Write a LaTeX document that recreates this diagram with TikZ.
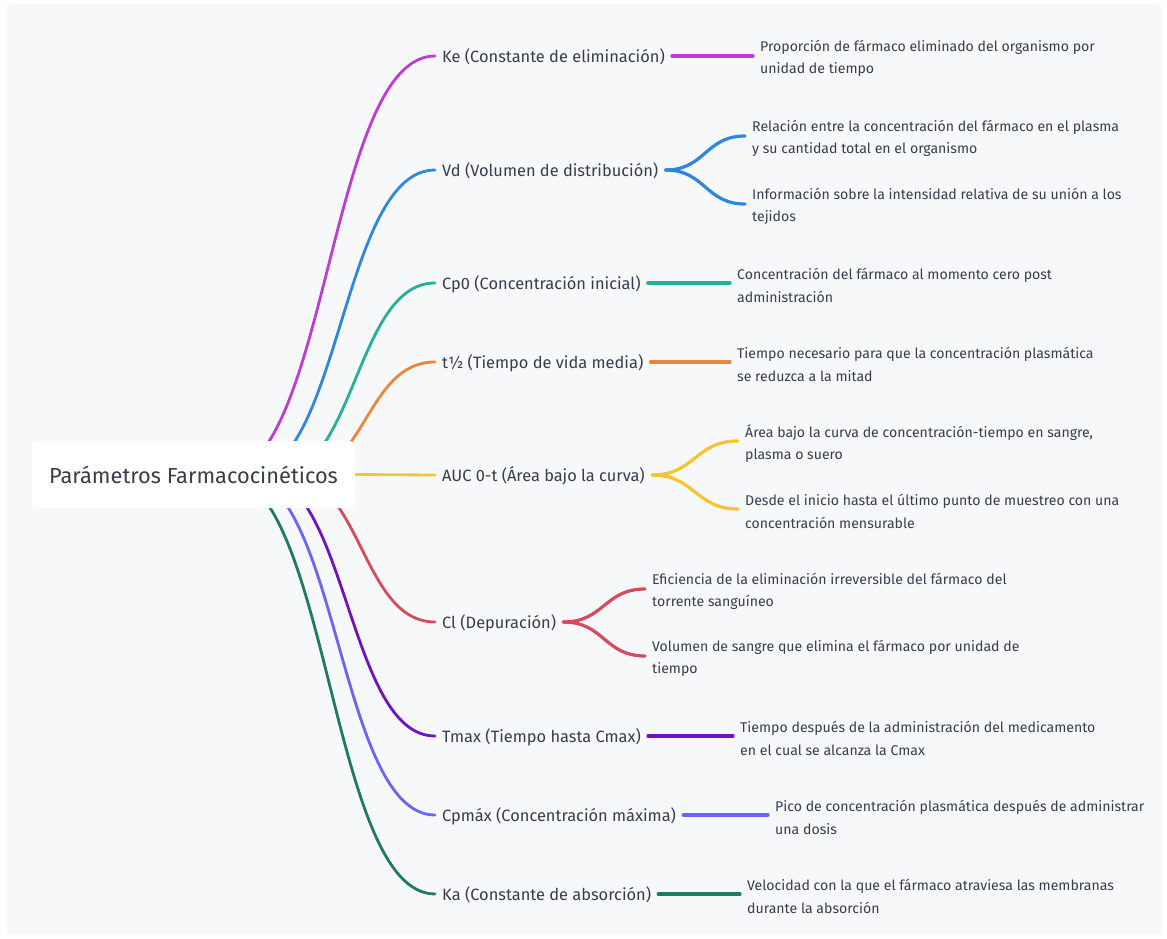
\documentclass[tikz,border=0pt]{standalone}
\usepackage{fontspec}
\setmainfont{Fira Sans}
\usetikzlibrary{calc, backgrounds}
\definecolor{cink}{HTML}{373E4A}
\definecolor{cbg}{HTML}{F7F8FA}
\definecolor{cmag}{HTML}{BE3CD2}
\definecolor{cblue}{HTML}{2E86DE}
\definecolor{cteal}{HTML}{26B09A}
\definecolor{corange}{HTML}{EC873A}
\definecolor{cyellow}{HTML}{F7C331}
\definecolor{cred}{HTML}{D54A5D}
\definecolor{cpurple}{HTML}{6F12C2}
\definecolor{cviolet}{HTML}{6C63F7}
\definecolor{cgreen}{HTML}{1F7A64}
\tikzset{
  every picture/.style={x=1pt, y=-1pt},
  root/.style={fill=white, rounded corners=5pt, minimum width=323pt, minimum height=67pt, text=cink, font=\fontsize{21.8}{26}\selectfont},
  branch/.style={anchor=west, inner xsep=7pt, inner ysep=2pt, text=cink, font=\fontsize{16.4}{19}\selectfont,
    text height=16pt, text depth=3.3pt},
  leaf/.style={anchor=west, align=left, inner xsep=7pt, inner ysep=0pt, yshift=-2.5pt, text=cink,
    font=\fontsize{14.1}{22.5}\selectfont},
  link/.style={draw=#1, line width=3.2pt, line cap=round,
    to path={let \p1=(\tikztostart), \p2=(\tikztotarget) in
      .. controls ({(\x1+\x2)/2},\y1) and ({(\x1+\x2)/2},\y2) .. (\tikztotarget)}},
}
\begin{document}
\begin{tikzpicture}
  \useasboundingbox (0,0) rectangle (1167,939);
  \node[root] (root) at (193.5,474.5) {Parámetros Farmacocinéticos};
  % main branches
  \node[branch] (ke) at (435,56) {Ke (Constante de eliminación)};
  \node[branch] (vd) at (435,170) {Vd (Volumen de distribución)};
  \node[branch] (cp) at (435,283) {Cp0 (Concentración inicial)};
  \node[branch] (th) at (435,362) {t½ (Tiempo de vida media)};
  \node[branch] (auc) at (435,475) {AUC 0-t (Área bajo la curva)};
  \node[branch] (cl) at (435,622) {Cl (Depuración)};
  \node[branch] (tmax) at (435,736) {Tmax (Tiempo hasta Cmax)};
  \node[branch] (cpmax) at (435,815) {Cpmáx (Concentración máxima)};
  \node[branch] (ka) at (435,894) {Ka (Constante de absorción)};
  % leaves
  \node[leaf] (ke1) at (753,56) {Proporción de fármaco eliminado del organismo por\\unidad de tiempo};
  \node[leaf] (vd1) at (745,136) {Relación entre la concentración del fármaco en el plasma\\y su cantidad total en el organismo};
  \node[leaf] (vd2) at (745,204) {Información sobre la intensidad relativa de su unión a los\\tejidos};
  \node[leaf] (cp1) at (730,283) {Concentración del fármaco al momento cero post\\administración};
  \node[leaf] (th1) at (730,362) {Tiempo necesario para que la concentración plasmática\\se reduzca a la mitad};
  \node[leaf] (auc1) at (738,441) {Área bajo la curva de concentración-tiempo en sangre,\\plasma o suero};
  \node[leaf] (auc2) at (738,509) {Desde el inicio hasta el último punto de muestreo con una\\concentración mensurable};
  \node[leaf] (cl1) at (645,589) {Eficiencia de la eliminación irreversible del fármaco del\\torrente sanguíneo};
  \node[leaf] (cl2) at (645,656) {Volumen de sangre que elimina el fármaco por unidad de\\tiempo};
  \node[leaf] (tmax1) at (733,736) {Tiempo después de la administración del medicamento\\en el cual se alcanza la Cmax};
  \node[leaf] (cpmax1) at (768,815) {Pico de concentración plasmática después de administrar\\una dosis};
  \node[leaf] (ka1) at (740,894) {Velocidad con la que el fármaco atraviesa las membranas\\durante la absorción};
  \foreach \a/\b/\c in {ke/ke1/cmag, vd/vd1/cblue, vd/vd2/cblue, cp/cp1/cteal, th/th1/corange,
      auc/auc1/cyellow, auc/auc2/cyellow, cl/cl1/cred, cl/cl2/cred, tmax/tmax1/cpurple,
      cpmax/cpmax1/cviolet, ka/ka1/cgreen}
    \draw[link=\c] (\a.east) to ([yshift=2.5pt]\b.west);
  \begin{scope}[on background layer]
    \fill[cbg] (7,5) rectangle (1162,934);
    \foreach \b/\sx/\c in {ke/222/cmag, vd/247/cblue, cp/276/cteal, th/297/corange,
        cl/288/cred, tmax/260/cpurple, cpmax/242/cviolet, ka/224/cgreen} {
      \coordinate (s\b) at (\sx,475);
      \draw[link=\c, line width=2.8pt] (s\b) to (\b.west);
    }
    \draw[link=cyellow, line width=2.8pt] (root.east) to (auc.west);
  \end{scope}
\end{tikzpicture}
\end{document}
